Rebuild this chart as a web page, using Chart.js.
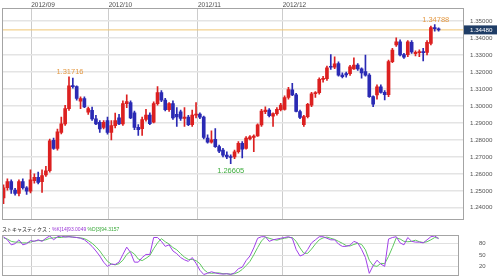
<!DOCTYPE html>
<html>
<head>
<meta charset="utf-8">
<script src="https://cdn.jsdelivr.net/npm/chart.js"></script>
<style>
    html, body { margin: 0; padding: 0; background: #fff; }
    #wrap { position: relative; width: 499px; height: 280px; overflow: hidden; }
    #priceChart { position: absolute; left: 0; top: 0; }
    #stochChart { position: absolute; left: 0; top: 225px; }
</style>
</head>
<body>
<div id="wrap">
    <canvas id="priceChart" width="499" height="225"></canvas>
    <canvas id="stochChart" width="499" height="55"></canvas>
</div>
<script>
// EUR/USD daily candles, late Aug 2012 -> Dec 2012
const opens = [
    1.2458, 1.2518, 1.2554, 1.2504, 1.2484, 1.2554, 1.2518, 1.2498, 1.2560, 1.2580,
    1.2554, 1.2594, 1.2618, 1.2798, 1.2750, 1.2844, 1.2894, 1.2984, 1.3120, 1.3114,
    1.3028, 1.3044, 1.2964, 1.2974, 1.2924, 1.2904, 1.2874, 1.2914, 1.2844, 1.2884,
    1.2930, 1.2894, 1.3014, 1.3020, 1.2960, 1.2874, 1.2866, 1.2920, 1.2946, 1.2904,
    1.3014, 1.3078, 1.3034, 1.2978, 1.3014, 1.2950, 1.2966, 1.2926, 1.2934, 1.2890,
    1.2946, 1.2952, 1.2934, 1.2810, 1.2786, 1.2804, 1.2760, 1.2740, 1.2710, 1.2702,
    1.2700, 1.2730, 1.2780, 1.2750, 1.2805, 1.2815, 1.2824, 1.2888, 1.2966, 1.2975,
    1.2940, 1.2955, 1.2978, 1.2980, 1.3050, 1.3095, 1.3065, 1.2967, 1.2890, 1.2937,
    1.3005, 1.3072, 1.3078, 1.3157, 1.3160, 1.3234, 1.3228, 1.3250, 1.3182, 1.3190,
    1.3190, 1.3218, 1.3241, 1.3218, 1.3202, 1.3182, 1.3055, 1.3065, 1.3113, 1.3080,
    1.3066, 1.3261, 1.3359, 1.3378, 1.3302, 1.3302, 1.3375, 1.3308, 1.3314, 1.3316,
    1.3316, 1.3369, 1.3462, 1.3452
];
const highs = [
    1.2535, 1.2570, 1.2564, 1.2514, 1.2564, 1.2570, 1.2525, 1.2624, 1.2600, 1.2610,
    1.2624, 1.2644, 1.2805, 1.2810, 1.2864, 1.2934, 1.3004, 1.31716, 1.3164, 1.3118,
    1.3054, 1.3054, 1.2994, 1.2994, 1.2944, 1.2914, 1.2914, 1.2934, 1.2914, 1.2958,
    1.2950, 1.3030, 1.3066, 1.3030, 1.2970, 1.2890, 1.2935, 1.2980, 1.2960, 1.3024,
    1.3114, 1.3090, 1.3045, 1.3020, 1.3030, 1.2990, 1.2975, 1.2990, 1.2945, 1.2975,
    1.3020, 1.2960, 1.2940, 1.2830, 1.2854, 1.2866, 1.2770, 1.2750, 1.2730, 1.2712,
    1.2740, 1.2790, 1.2790, 1.2820, 1.2825, 1.2830, 1.2895, 1.2980, 1.2995, 1.2985,
    1.2960, 1.2990, 1.3015, 1.3060, 1.3110, 1.3133, 1.3075, 1.2975, 1.2945, 1.3015,
    1.3080, 1.3085, 1.3165, 1.3175, 1.3235, 1.3303, 1.3290, 1.3260, 1.3195, 1.3200,
    1.3240, 1.3284, 1.3250, 1.3225, 1.3300, 1.3190, 1.3060, 1.3125, 1.3125, 1.3090,
    1.3270, 1.3340, 1.3402, 1.3390, 1.3310, 1.3385, 1.3385, 1.3325, 1.3330, 1.3340,
    1.3385, 1.3470, 1.34788, 1.3460
];
const lows = [
    1.2424, 1.2504, 1.2484, 1.2474, 1.2470, 1.2510, 1.2478, 1.2488, 1.2545, 1.2540,
    1.2490, 1.2585, 1.2610, 1.2744, 1.2740, 1.2835, 1.2885, 1.2974, 1.3104, 1.3034,
    1.2984, 1.2990, 1.2950, 1.2914, 1.2890, 1.2844, 1.2864, 1.2834, 1.2800, 1.2870,
    1.2890, 1.2885, 1.2990, 1.2925, 1.2860, 1.2826, 1.2826, 1.2910, 1.2890, 1.2900,
    1.3005, 1.3025, 1.2970, 1.2968, 1.2920, 1.2880, 1.2915, 1.2880, 1.2884, 1.2880,
    1.2930, 1.2925, 1.2805, 1.2780, 1.2780, 1.2755, 1.2725, 1.2700, 1.2690, 1.26605,
    1.2690, 1.2722, 1.2694, 1.2745, 1.2800, 1.2730, 1.2820, 1.2880, 1.2955, 1.2935,
    1.2880, 1.2945, 1.2970, 1.2975, 1.3040, 1.3060, 1.2965, 1.2925, 1.2880, 1.2930,
    1.2995, 1.3050, 1.3070, 1.3140, 1.3150, 1.3215, 1.3220, 1.3175, 1.3165, 1.3170,
    1.3180, 1.3215, 1.3210, 1.3163, 1.3175, 1.3050, 1.2996, 1.3040, 1.3075, 1.3035,
    1.3055, 1.3255, 1.3350, 1.3295, 1.3280, 1.3290, 1.3310, 1.3295, 1.3290, 1.3265,
    1.3300, 1.3360, 1.3440, 1.3440
];
const closes = [
    1.2518, 1.2554, 1.2508, 1.2484, 1.2554, 1.2518, 1.2498, 1.2564, 1.2580, 1.2550,
    1.2590, 1.2618, 1.2794, 1.2750, 1.2848, 1.2894, 1.2984, 1.3118, 1.3114, 1.3044,
    1.3044, 1.2994, 1.2984, 1.2924, 1.2894, 1.2864, 1.2904, 1.2844, 1.2884, 1.2914,
    1.2894, 1.3014, 1.3026, 1.2930, 1.2874, 1.2860, 1.2920, 1.2946, 1.2896, 1.3014,
    1.3078, 1.3034, 1.2978, 1.3014, 1.2930, 1.2935, 1.2926, 1.2934, 1.2890, 1.2946,
    1.2952, 1.2934, 1.2814, 1.2786, 1.2800, 1.2760, 1.2734, 1.2710, 1.2700, 1.2696,
    1.2730, 1.2780, 1.2745, 1.2810, 1.2818, 1.2822, 1.2888, 1.2970, 1.2976, 1.2942,
    1.2955, 1.2980, 1.3005, 1.3050, 1.3097, 1.3065, 1.2968, 1.2933, 1.2937, 1.3010,
    1.3072, 1.3078, 1.3157, 1.3163, 1.3224, 1.3228, 1.3248, 1.3182, 1.3172, 1.3183,
    1.3230, 1.3241, 1.3218, 1.3195, 1.3182, 1.3055, 1.3010, 1.3113, 1.3080, 1.3066,
    1.3261, 1.3329, 1.3378, 1.3300, 1.3288, 1.3378, 1.3319, 1.3316, 1.3318, 1.3314,
    1.3375, 1.3461, 1.3455, 1.3448
];

// Stochastics %K[14] and %D[3]
const stochK = [
    98, 90, 77, 80, 90, 77, 80, 88, 86, 90,
    86, 94, 100, 90, 98, 100, 97, 98, 97, 96,
    94, 90, 82, 73, 61, 48, 32, 21, 27, 26,
    32, 52, 71, 57, 32, 32, 44, 52, 52, 96,
    96, 86, 73, 77, 61, 54, 44, 38, 34, 44,
    29, 11, 0, 3, 7, 4, 2, 1, 2, 0,
    4, 15, 19, 36, 48, 69, 94, 98, 98, 86,
    90, 92, 94, 96, 98, 94, 65, 48, 52, 65,
    82, 90, 98, 98, 94, 90, 90, 79, 73, 73,
    76, 86, 82, 65, 44, 3, 23, 37, 27, 21,
    92, 96, 98, 82, 77, 96, 86, 84, 84, 82,
    90, 98, 100, 93.0049
];
const stochD = [
    95, 92, 86, 84, 84, 82, 82, 84, 87, 88,
    88, 90, 94, 95, 96, 96, 98, 98, 97, 96,
    95, 93, 88, 81, 72, 61, 47, 34, 27, 25,
    28, 37, 52, 60, 53, 40, 36, 42, 49, 67,
    82, 93, 85, 79, 70, 64, 54, 45, 39, 39,
    36, 28, 13, 5, 3, 4, 4, 2, 2, 1,
    2, 6, 13, 23, 34, 51, 70, 87, 97, 94,
    91, 89, 92, 94, 96, 96, 86, 69, 55, 55,
    66, 79, 90, 95, 97, 94, 91, 86, 81, 75,
    74, 78, 81, 78, 64, 37, 23, 21, 29, 28,
    47, 70, 95, 92, 86, 85, 86, 89, 85, 83,
    85, 90, 96, 94.3157
];

// Month markers (position in candle units) and tick values
const monthLabels = ['2012/09', '2012/10', '2012/11', '2012/12'];
const monthAt = [7.2, 27.3, 50.5, 72.5];
const priceTicks = [1.24, 1.25, 1.26, 1.27, 1.28, 1.29, 1.30, 1.31, 1.32, 1.33, 1.34, 1.35];
const stochTicks = [20, 50, 80];

// Annotated extremes: candle index and which end
const markIdx = [17, 112, 59];
const markSide = ['high', 'high', 'low'];

const fontFamily = "'Liberation Sans', Arial, 'Noto Sans CJK JP', sans-serif";
Chart.defaults.font.family = fontFamily;

const upColor = '#dc2020';
const downColor = '#2a2ab4';
const candleColors = opens.map((o, i) => closes[i] >= o ? upColor : downColor);

// Chart-area frame, both panels
const framePlugin = {
    id: 'frame',
    afterDraw(chart) {
        const { ctx, chartArea: a } = chart;
        ctx.save();
        ctx.strokeStyle = '#a4a4a4';
        ctx.lineWidth = 1;
        const l = Math.round(a.left) + 0.5, t = Math.round(a.top) + 0.5;
        const r = Math.round(a.right) - 0.5, b = Math.round(a.bottom) - 0.5;
        ctx.strokeRect(l, t, r - l, b - t);
        ctx.restore();
    }
};

// High / low labels and current price box
const markerPlugin = {
    id: 'markers',
    afterDraw(chart) {
        const { ctx, scales: { x, y }, chartArea } = chart;
        ctx.save();
        ctx.font = `7.5px ${fontFamily}`;
        ctx.textAlign = 'center';
        markIdx.forEach((i, k) => {
            const px = x.getPixelForValue(i);
            if (markSide[k] === 'low') {
                ctx.fillStyle = '#3fae3f';
                ctx.textBaseline = 'top';
                ctx.fillText(lows[i].toFixed(5), px, y.getPixelForValue(lows[i]) + 4);
            } else {
                ctx.fillStyle = '#e49a45';
                ctx.textBaseline = 'bottom';
                ctx.fillText(highs[i].toFixed(5), px + 1, y.getPixelForValue(highs[i]) - 1);
            }
        });

        const last = closes[closes.length - 1];
        const py = y.getPixelForValue(last);
        ctx.fillStyle = '#1f3d66';
        ctx.fillRect(chartArea.right, py - 4.5, 33, 9);
        ctx.fillStyle = '#ffffff';
        ctx.font = `6.2px ${fontFamily}`;
        ctx.textAlign = 'left';
        ctx.textBaseline = 'middle';
        ctx.fillText(last.toFixed(5), chartArea.right + 6, py + 0.5);
        ctx.restore();
    }
};

// Stochastics title line
const stochTitlePlugin = {
    id: 'stochTitle',
    afterDraw(chart) {
        const ctx = chart.ctx;
        const parts = [
            ['ストキャスティクス：', '#222222'],
            [`%K[14]${stochK[stochK.length - 1].toFixed(4)} `, '#9a35d6'],
            [`%D[3]${stochD[stochD.length - 1].toFixed(4)}`, '#38a838']
        ];
        ctx.save();
        ctx.font = `5px ${fontFamily}`;
        ctx.textBaseline = 'middle';
        let tx = 2;
        parts.forEach(([text, color]) => {
            ctx.fillStyle = color;
            ctx.fillText(text, tx, 5);
            tx += ctx.measureText(text).width;
        });
        ctx.restore();
    }
};

function initPriceChart(canvasId) {
    const canvas = document.getElementById(canvasId);
    const last = closes[closes.length - 1];
    const xMin = -0.4, xMax = 119.6;

    new Chart(canvas.getContext('2d'), {
        type: 'bar',
        data: {
            datasets: [
                {
                    label: 'Body',
                    data: opens.map((o, i) => ({ x: i, y: [o, closes[i]] })),
                    backgroundColor: candleColors,
                    borderWidth: 0,
                    barThickness: 3,
                    minBarLength: 1,
                    grouped: false,
                    order: 1
                },
                {
                    label: 'Wick',
                    data: lows.map((l, i) => ({ x: i, y: [l, highs[i]] })),
                    backgroundColor: candleColors,
                    borderWidth: 0,
                    barThickness: 1,
                    grouped: false,
                    order: 2
                },
                {
                    type: 'line',
                    label: 'Last',
                    data: [{ x: xMin, y: last }, { x: xMax, y: last }],
                    borderColor: '#f0c674',
                    borderWidth: 1,
                    pointRadius: 0,
                    order: 3
                }
            ]
        },
        options: {
            responsive: false,
            animation: false,
            layout: { padding: { left: 2, top: 2.3, bottom: 5, right: 0 } },
            plugins: {
                legend: { display: false },
                tooltip: { enabled: false }
            },
            scales: {
                x: {
                    type: 'linear',
                    position: 'top',
                    min: xMin,
                    max: xMax,
                    offset: false,
                    afterBuildTicks: s => { s.ticks = monthAt.map(v => ({ value: v })); },
                    ticks: {
                        autoSkip: false,
                        maxRotation: 0,
                        align: 'start',
                        padding: 0,
                        color: '#444',
                        font: { size: 6.5, lineHeight: 0.8 },
                        callback: (v, idx) => monthLabels[idx]
                    },
                    grid: { offset: false, color: '#cccccc', lineWidth: 1, drawTicks: false },
                    border: { display: false }
                },
                y: {
                    position: 'right',
                    min: 1.2328,
                    max: 1.3580,
                    afterBuildTicks: s => { s.ticks = priceTicks.map(v => ({ value: v })); },
                    afterFit: s => { s.width = 35; },
                    ticks: {
                        padding: 0,
                        color: '#555',
                        font: { size: 6.2 },
                        callback: v => v.toFixed(5)
                    },
                    grid: {
                        color: '#e4e4e4',
                        lineWidth: 1.5,
                        drawTicks: true,
                        tickLength: 6,
                        tickColor: 'rgba(0, 0, 0, 0)'
                    },
                    border: { display: false }
                }
            }
        },
        plugins: [framePlugin, markerPlugin]
    });
}

function initStochChart(canvasId) {
    const canvas = document.getElementById(canvasId);
    const idx = stochK.map((v, i) => i);

    new Chart(canvas.getContext('2d'), {
        type: 'line',
        data: {
            datasets: [
                {
                    label: '%K',
                    data: idx.map(i => ({ x: i, y: stochK[i] })),
                    borderColor: '#a040e8',
                    borderWidth: 1,
                    pointRadius: 0,
                    tension: 0
                },
                {
                    label: '%D',
                    data: idx.map(i => ({ x: i, y: stochD[i] })),
                    borderColor: '#5fc85f',
                    borderWidth: 1,
                    pointRadius: 0,
                    tension: 0
                }
            ]
        },
        options: {
            responsive: false,
            animation: false,
            layout: { padding: { left: 2, top: 10, bottom: 2.3, right: 0 } },
            plugins: {
                legend: { display: false },
                tooltip: { enabled: false }
            },
            scales: {
                x: {
                    type: 'linear',
                    min: -0.4,
                    max: 118.3,
                    afterBuildTicks: s => { s.ticks = monthAt.map(v => ({ value: v })); },
                    afterFit: s => { s.height = 0; },
                    ticks: { display: false },
                    grid: { color: '#cccccc', lineWidth: 1, drawTicks: false },
                    border: { display: false }
                },
                y: {
                    position: 'right',
                    min: -5,
                    max: 102.5,
                    afterBuildTicks: s => { s.ticks = stochTicks.map(v => ({ value: v })); },
                    afterFit: s => { s.width = 40; },
                    ticks: {
                        padding: 0,
                        color: '#555',
                        font: { size: 6 }
                    },
                    grid: {
                        color: '#e0e0e0',
                        lineWidth: 1,
                        drawTicks: true,
                        tickLength: 20,
                        tickColor: 'rgba(0, 0, 0, 0)'
                    },
                    border: { display: false }
                }
            }
        },
        plugins: [framePlugin, stochTitlePlugin]
    });
}

initPriceChart('priceChart');
initStochChart('stochChart');
</script>
</body>
</html>
